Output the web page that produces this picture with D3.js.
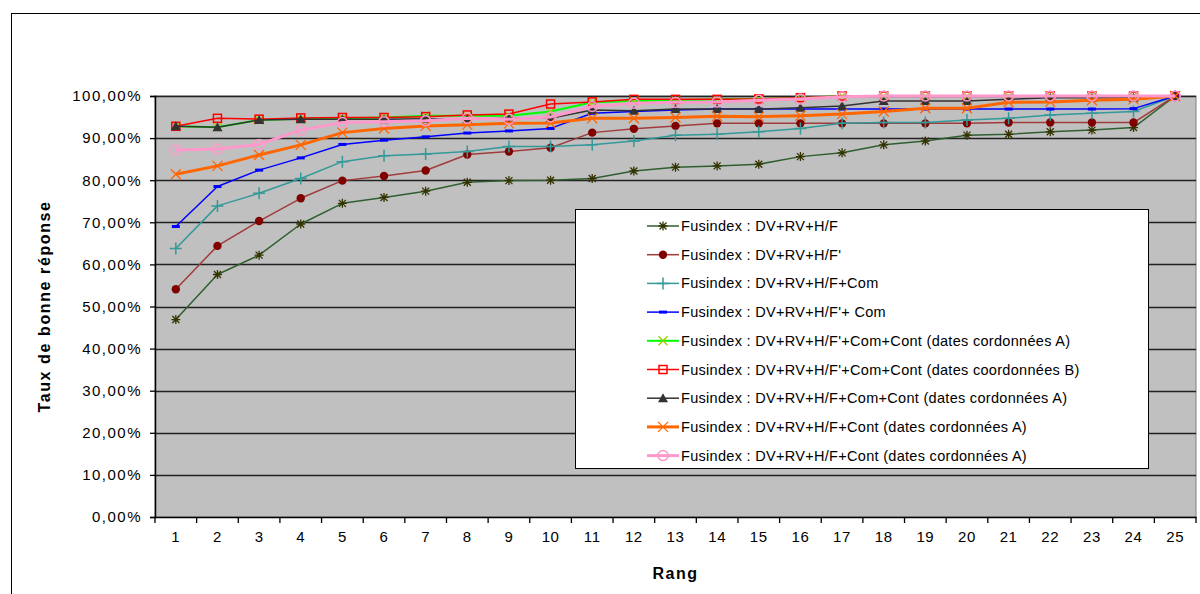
<!DOCTYPE html>
<html>
<head>
<meta charset="utf-8">
<script src="https://cdn.jsdelivr.net/npm/d3@7"></script>
<style>
  body { margin: 0; background: #fff; }
  svg text { font-family: "Liberation Sans", Arial, sans-serif; fill: #000; }
</style>
</head>
<body>
<div id="chart"></div>
<script>
// ranks on the x axis
const ranks = d3.range(1, 26)

// series values (in %)
const sDvRvHf = [46.9, 57.6, 62.2, 69.6, 74.5, 75.9, 77.4, 79.5, 79.9, 80.0, 80.4, 82.2, 83.1, 83.4, 83.8, 85.6, 86.5, 88.4, 89.3, 90.7, 90.9, 91.5, 91.9, 92.5, 100]
const sDvRvHfP = [54.1, 64.4, 70.3, 75.7, 79.9, 81.0, 82.3, 86.1, 86.8, 87.7, 91.3, 92.2, 92.9, 93.5, 93.5, 93.5, 93.5, 93.5, 93.5, 93.5, 93.7, 93.7, 93.7, 93.7, 100]
const sDvRvHfCom = [63.8, 73.9, 76.9, 80.4, 84.4, 85.8, 86.2, 86.8, 88.0, 88.0, 88.4, 89.3, 90.7, 90.9, 91.5, 92.3, 93.5, 93.7, 93.7, 94.3, 94.7, 95.5, 95.9, 96.3, 100]
const sDvRvHfPCom = [69.0, 78.5, 82.4, 85.3, 88.5, 89.5, 90.3, 91.2, 91.7, 92.3, 95.9, 96.3, 96.7, 96.9, 96.9, 96.9, 96.9, 96.9, 96.9, 96.9, 96.9, 96.9, 96.9, 97.0, 100]
const sPComContA = [92.8, 92.6, 94.3, 94.6, 94.7, 94.9, 95.3, 95.3, 95.3, 96.3, 98.5, 98.8, 99.0, 99.2, 99.3, 99.5, 100, 100, 100, 100, 100, 100, 100, 100, 100]
const sPComContB = [92.8, 94.7, 94.5, 94.8, 94.9, 94.9, 95.1, 95.5, 95.7, 98.1, 98.6, 99.2, 99.2, 99.2, 99.3, 99.6, 100, 100, 100, 100, 100, 100, 100, 100, 100]
const sComContA = [92.8, 92.6, 94.3, 94.5, 94.5, 94.5, 94.6, 94.5, 94.7, 94.7, 96.7, 96.5, 96.9, 96.9, 96.9, 97.2, 97.6, 98.8, 98.8, 98.8, 99.2, 99.6, 99.6, 99.6, 100]
const sContA = [81.4, 83.4, 86.0, 88.4, 91.3, 92.3, 92.9, 93.2, 93.5, 93.6, 94.7, 94.7, 94.9, 95.2, 95.1, 95.3, 95.7, 96.3, 97.1, 97.1, 98.5, 98.6, 99.0, 99.2, 100]
const sContA2 = [87.2, 87.4, 88.5, 91.9, 93.7, 93.9, 94.1, 94.7, 94.5, 95.0, 97.5, 98.3, 98.5, 98.6, 99.0, 99.3, 99.8, 100, 100, 100, 100, 100, 100, 100, 100]

// legend labels
const labels = [
    "Fusindex : DV+RV+H/F",
    "Fusindex : DV+RV+H/F'",
    "Fusindex : DV+RV+H/F+Com",
    "Fusindex : DV+RV+H/F'+ Com",
    "Fusindex : DV+RV+H/F'+Com+Cont (dates cordonnées A)",
    "Fusindex : DV+RV+H/F'+Com+Cont (dates coordonnées B)",
    "Fusindex : DV+RV+H/F+Com+Cont (dates cordonnées A)",
    "Fusindex : DV+RV+H/F+Cont (dates cordonnées A)",
    "Fusindex : DV+RV+H/F+Cont (dates cordonnées A)"
]

const yTicks = d3.range(0, 1.01, 0.1)

// marker drawers
function asterisk(g, c) {
    g.append("path").attr("d", "M-3.5,-3.5L3.5,3.5M-3.5,3.5L3.5,-3.5M0,-4.5V4.5M-4.5,0H4.5")
        .attr("stroke", c).attr("stroke-width", 1.3).attr("fill", "none")
}
function dot(g, c) {
    g.append("circle").attr("r", 4.2).attr("fill", c)
}
function plus(g, c) {
    g.append("path").attr("d", "M0,-6V6M-6,0H6").attr("stroke", c).attr("stroke-width", 1.5)
}
function dash(g, c) {
    g.append("rect").attr("x", -4).attr("y", -1.5).attr("width", 8).attr("height", 3).attr("fill", c)
}
function cross(c, s) {
    return function(g) {
        g.append("path").attr("d", `M${-s},${-s}L${s},${s}M${-s},${s}L${s},${-s}`)
            .attr("stroke", c).attr("stroke-width", 1.3).attr("fill", "none")
    }
}
function square(g, c) {
    g.append("rect").attr("x", -4).attr("y", -4).attr("width", 8).attr("height", 8)
        .attr("fill", "none").attr("stroke", c).attr("stroke-width", 1.5)
}
function triangle(g, c) {
    g.append("path").attr("d", "M0,-5L5,4H-5Z").attr("fill", c)
}
function ring(g, c) {
    g.append("circle").attr("r", 5).attr("fill", "none").attr("stroke", c).attr("stroke-width", 1.5)
}

const series = [
    { values: sDvRvHf, color: "#2f5f2f", width: 1.5, marker: g => asterisk(g, "#333300") },
    { values: sDvRvHfP, color: "#a03c3c", width: 1.5, marker: g => dot(g, "#800000") },
    { values: sDvRvHfCom, color: "#339999", width: 1.5, marker: g => plus(g, "#339999") },
    { values: sDvRvHfPCom, color: "#0000ff", width: 1.5, marker: g => dash(g, "#0000ff") },
    { values: sPComContA, color: "#00ff00", width: 2, marker: cross("#99cc00", 4.5) },
    { values: sPComContB, color: "#ff0000", width: 1.5, marker: g => square(g, "#ff0000") },
    { values: sComContA, color: "#333333", width: 1.5, marker: g => triangle(g, "#333333") },
    { values: sContA, color: "#ff6600", width: 3, marker: cross("#ff6600", 5) },
    { values: sContA2, color: "#ff99cc", width: 3, marker: g => ring(g, "#ff99cc") }
]

const W = 1200, H = 594
const svg = d3.select("#chart").append("svg").attr("width", W).attr("height", H)

// outer chart frame
svg.append("rect").attr("x", 11.5).attr("y", 13.5).attr("width", 1250).attr("height", 700)
    .attr("fill", "#fff").attr("stroke", "#000").attr("stroke-width", 1)

const plot = { left: 155, right: 1196, top: 96, bottom: 517 }

const x = d3.scaleBand().domain(ranks).range([plot.left, plot.right])
const y = d3.scaleLinear().domain([0, 1]).range([plot.bottom, plot.top])
const cx = r => x(r) + x.bandwidth() / 2

// plot background
svg.append("rect").attr("x", plot.left).attr("y", plot.top)
    .attr("width", plot.right - plot.left).attr("height", plot.bottom - plot.top)
    .attr("fill", "#c0c0c0").attr("stroke", "#808080").attr("stroke-width", 1)

// gridlines
svg.append("g").selectAll("line").data(yTicks.slice(1)).join("line")
    .attr("x1", plot.left).attr("x2", plot.right)
    .attr("y1", d => Math.round(y(d)) + 0.5).attr("y2", d => Math.round(y(d)) + 0.5)
    .attr("stroke", "#222").attr("stroke-width", 1.5)

// axes
const fr = d3.formatLocale({ decimal: ",", thousands: " ", grouping: [3], currency: ["", "€"], percent: "%" })
const yAxis = d3.axisLeft(y).tickValues(yTicks).tickFormat(fr.format(".2%")).tickSize(5).tickPadding(8)
const gy = svg.append("g").attr("transform", `translate(${plot.left},0)`).call(yAxis)
gy.select(".domain").attr("stroke", "#000").attr("stroke-width", 1.5)
gy.selectAll(".tick line").attr("stroke", "#000").attr("stroke-width", 1.3)
gy.selectAll(".tick text").attr("font-size", 15).attr("letter-spacing", "1.5px").attr("fill", "#000")
    .attr("font-family", "Liberation Sans, Arial, sans-serif")

const xAxis = d3.axisBottom(x).tickSize(0).tickPadding(14)
const gx = svg.append("g").attr("transform", `translate(0,${plot.bottom})`).call(xAxis)
gx.select(".domain").attr("stroke", "#000").attr("stroke-width", 1.5)
gx.selectAll(".tick text").attr("font-size", 15).attr("letter-spacing", "0.6px").attr("fill", "#000")
    .attr("font-family", "Liberation Sans, Arial, sans-serif")

// x ticks between categories
svg.append("g").selectAll("line").data(ranks.concat([26])).join("line")
    .attr("x1", d => d === 26 ? plot.right : x(d)).attr("x2", d => d === 26 ? plot.right : x(d))
    .attr("y1", plot.bottom).attr("y2", plot.bottom + 6)
    .attr("stroke", "#000").attr("stroke-width", 1.3)

// axis titles
svg.append("text")
    .attr("transform", `translate(50, ${(plot.top + plot.bottom) / 2}) rotate(-90)`)
    .attr("text-anchor", "middle")
    .attr("font-size", 16).attr("font-weight", "bold").attr("letter-spacing", "1.6px")
    .text("Taux de bonne réponse")

svg.append("text")
    .attr("x", (plot.left + plot.right) / 2).attr("y", 579)
    .attr("text-anchor", "middle")
    .attr("font-size", 16).attr("font-weight", "bold").attr("letter-spacing", "1.5px")
    .text("Rang")

// lines + markers
const line = d3.line().x((d, i) => cx(ranks[i])).y(d => y(d / 100))

series.forEach(s => {
    const g = svg.append("g")
    g.append("path").datum(s.values)
        .attr("d", line)
        .attr("fill", "none")
        .attr("stroke", s.color)
        .attr("stroke-width", s.width)
        .attr("stroke-linejoin", "round")
    s.values.forEach((v, i) => {
        const m = g.append("g").attr("transform", `translate(${cx(ranks[i])},${y(v / 100)})`)
        s.marker(m)
    })
})

// legend
const lg = svg.append("g")
lg.append("rect").attr("x", 575.5).attr("y", 209.5).attr("width", 573).attr("height", 259)
    .attr("fill", "#fff").attr("stroke", "#000").attr("stroke-width", 1)

series.forEach((s, i) => {
    const ly = 226 + i * 28.7
    lg.append("line").attr("x1", 647).attr("x2", 679).attr("y1", ly).attr("y2", ly)
        .attr("stroke", s.color).attr("stroke-width", s.width)
    const m = lg.append("g").attr("transform", `translate(663,${ly})`)
    s.marker(m)
    lg.append("text").attr("x", 681).attr("y", ly + 5)
        .attr("font-size", 14.5).attr("letter-spacing", "0.3px")
        .text(labels[i])
})
</script>
</body>
</html>
